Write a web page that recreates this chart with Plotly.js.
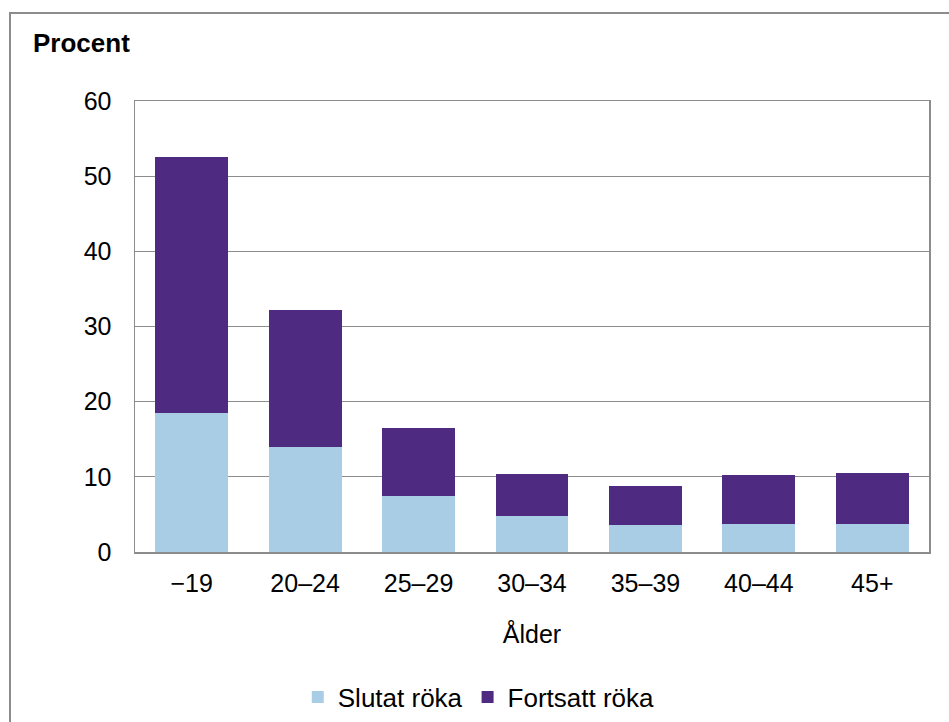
<!DOCTYPE html>
<html>
<head>
<meta charset="utf-8">
<script src="https://cdn.plot.ly/plotly-3.0.1.min.js"></script>
<style>
  html, body { margin: 0; padding: 0; background: #fff; }
  #wrap { position: relative; width: 949px; height: 722px; overflow: hidden; }
  #frame { position: absolute; left: 9px; top: 12px; width: 960px; height: 740px; border: 2px solid #8c8c8c; box-sizing: border-box; pointer-events: none; }
  #chart { position: absolute; left: 0; top: 0; width: 949px; height: 722px; }
</style>
</head>
<body>
<div id="wrap">
  <div id="chart"></div>
  <div id="frame"></div>
</div>
<script>
const categories = ["\u221219", "20\u201324", "25\u201329", "30\u201334", "35\u201339", "40\u201344", "45+"];
const slutat = [18.5, 14.0, 7.5, 4.8, 3.6, 3.7, 3.7];
const fortsatt = [34.0, 18.2, 9.0, 5.6, 5.2, 6.5, 6.8];
const yTicks = [0, 10, 20, 30, 40, 50, 60];

const font = "Liberation Sans, Arial, sans-serif";

const traces = [
  { type: "bar", name: "Slutat röka", x: categories, y: slutat,
    marker: { color: "#a9cde4" }, hoverinfo: "skip" },
  { type: "bar", name: "Fortsatt röka", x: categories, y: fortsatt,
    marker: { color: "#4e2a80" }, hoverinfo: "skip" }
];

const layout = {
  width: 949, height: 722,
  margin: { l: 135, r: 20, t: 101, b: 170, autoexpand: false },
  paper_bgcolor: "#fff", plot_bgcolor: "#fff",
  barmode: "stack",
  bargap: 0.357,
  font: { family: font, size: 25, color: "#000" },
  showlegend: true,
  legend: {
    orientation: "h", x: 0.205, xanchor: "left", y: -0.322, yanchor: "middle",
    font: { family: font, size: 26, color: "#000" },
    traceorder: "normal", itemwidth: 30
  },
  xaxis: {
    type: "category", automargin: false,
    showgrid: false, showline: true, linecolor: "#8c8c8c", linewidth: 1.5,
    mirror: true, ticks: "", ticklabelstandoff: 8,
    tickfont: { family: font, size: 25, color: "#000" },
    title: { text: "Ålder", font: { family: font, size: 25, color: "#000" }, standoff: 30 }
  },
  yaxis: {
    range: [0, 60], tickvals: yTicks, ticktext: yTicks.map(String), automargin: false,
    showgrid: true, gridcolor: "#8c8c8c", gridwidth: 1.2,
    showline: true, linecolor: "#8c8c8c", linewidth: 1.5, mirror: true,
    zeroline: false, ticks: "", ticklabelstandoff: 17,
    tickfont: { family: font, size: 25, color: "#000" }
  },
  annotations: [{
    text: "<b>Procent</b>", xref: "paper", yref: "paper",
    x: -0.131, y: 1.128, xanchor: "left", yanchor: "middle",
    showarrow: false, font: { family: font, size: 26, color: "#000" }
  }]
};

Plotly.newPlot("chart", traces, layout, { displayModeBar: false, staticPlot: true });
</script>
</body>
</html>
